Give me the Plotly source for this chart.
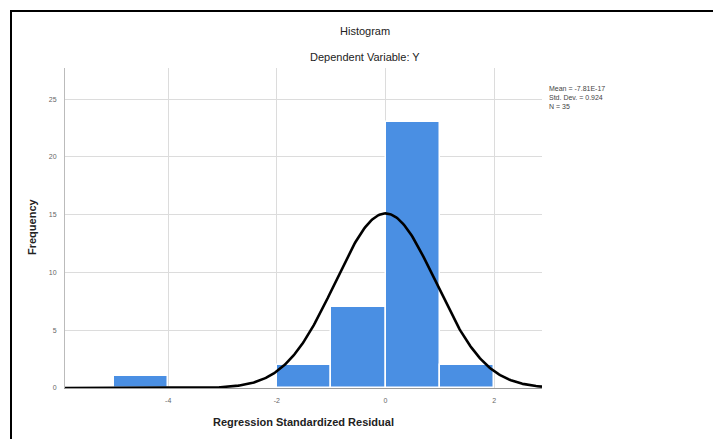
import numpy as np
import plotly.graph_objects as go

# Histogram of regression standardized residuals (bin width 1)
bin_left = [-5, -4, -3, -2, -1, 0, 1]
counts = [1, 0, 0, 2, 7, 23, 2]
bin_width = 1.0

# Fitted normal summary
mean_val = -7.81e-17
std_dev = 0.924
n_obs = 35
stats_lines = ["Mean = -7.81E-17", "Std. Dev. = 0.924", "N = 35"]

x_ticks = [-4, -2, 0, 2]
y_ticks = [0, 5, 10, 15, 20, 25]

W, H = 713, 439
L, R, T, B = 65, 542, 68, 388
x_range = [-5.9, 2.88]
y_range = [0, 27.7]


def px_x(p):
    return (p - L) / (R - L)


def px_y(p):
    return (B - p) / (B - T)


FONT = "Arial, Liberation Sans, sans-serif"

fig = go.Figure()

centers = [b + bin_width / 2 for b in bin_left]
fig.add_trace(go.Bar(
    x=centers, y=counts, width=bin_width,
    marker=dict(color="#4a8fe3", line=dict(color="white", width=1.5)),
    hoverinfo="skip", showlegend=False,
))

xs = np.linspace(x_range[0], x_range[1], 400)
pdf = n_obs * bin_width / (std_dev * np.sqrt(2 * np.pi)) * np.exp(-0.5 * ((xs - mean_val) / std_dev) ** 2)
fig.add_trace(go.Scatter(
    x=xs, y=pdf, mode="lines",
    line=dict(color="black", width=2.6),
    hoverinfo="skip", showlegend=False, cliponaxis=False,
))


def label(text, x, y, size=11, **kw):
    base = dict(text=text, xref="paper", yref="paper", x=px_x(x), y=px_y(y),
                xanchor="center", yanchor="middle", showarrow=False,
                font=dict(size=size, color="#222"))
    base.update(kw)
    return base


fig.update_layout(
    width=W, height=H,
    margin=dict(l=L, r=W - R, t=T, b=H - B, pad=0),
    paper_bgcolor="white", plot_bgcolor="white",
    font=dict(family=FONT, color="#222"),
    bargap=0,
    xaxis=dict(
        range=x_range, tickvals=x_ticks, ticktext=[str(v) for v in x_ticks],
        showgrid=True, gridcolor="#dcdcdc", gridwidth=1,
        zeroline=False, showline=True, linecolor="#999", linewidth=1,
        ticks="", tickfont=dict(size=7, color="#666"), ticklabelstandoff=6,
        fixedrange=True,
    ),
    yaxis=dict(
        range=y_range, tickvals=y_ticks, ticktext=[str(v) for v in y_ticks],
        showgrid=True, gridcolor="#dcdcdc", gridwidth=1,
        zeroline=False, showline=True, linecolor="#bbb", linewidth=1,
        ticks="", tickfont=dict(size=7, color="#666"), ticklabelstandoff=6,
        fixedrange=True,
    ),
    shapes=[
        dict(type="rect", xref="paper", yref="paper",
             x0=px_x(11), x1=px_x(730), y0=px_y(450), y1=px_y(11),
             line=dict(color="black", width=2), fillcolor="rgba(0,0,0,0)", layer="above"),
    ],
    annotations=[
        label("Histogram", 365, 31),
        label("Dependent Variable: Y", 365, 57),
        label("<b>Regression Standardized Residual</b>", 303, 422),
        label("<b>Frequency</b>", 32, 227, textangle=-90),
        label("<br>".join(stats_lines), 547, 83, size=7, xanchor="left", yanchor="top",
              align="left", font=dict(size=7, color="#444")),
    ],
)

fig.write_html("out.html")
